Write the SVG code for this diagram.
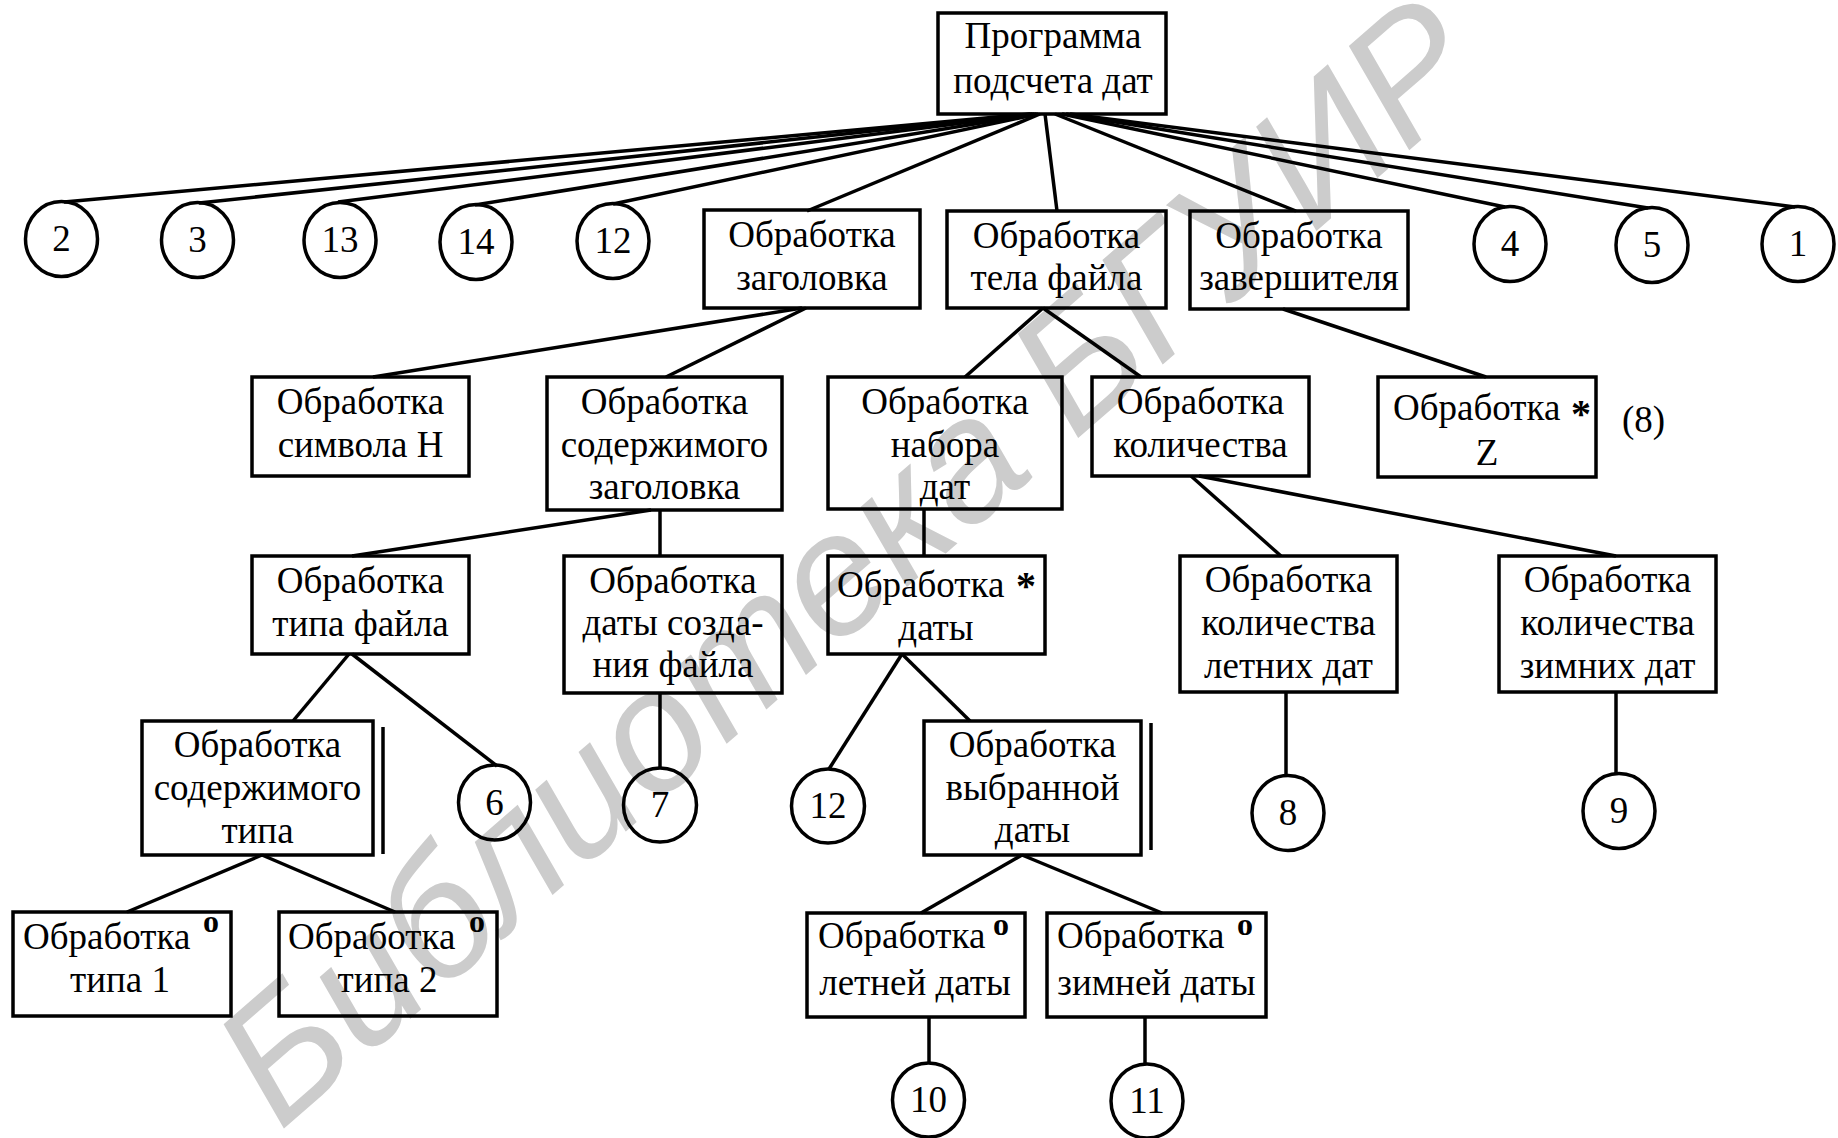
<svg xmlns="http://www.w3.org/2000/svg" width="1838" height="1138" viewBox="0 0 1838 1138">
<style>
.box{fill:none;stroke:#000;stroke-width:3.5}
.circ{fill:none;stroke:#000;stroke-width:3.5}
.edges path{stroke:#000;stroke-width:3.5;fill:none}
.t{font-family:"Liberation Serif","Times New Roman",serif;font-size:37px;fill:#000;text-anchor:middle}
.ts{font-family:"Liberation Serif","Times New Roman",serif;font-size:37px;fill:#000;text-anchor:start}
.mark{font-family:"Liberation Serif","Times New Roman",serif;font-size:40px;font-weight:bold;fill:#000}
.sup{font-family:"Liberation Serif","Times New Roman",serif;font-size:32px;font-weight:bold;fill:#000}
.wm{font-family:"Liberation Sans",Arial,sans-serif;font-size:172px;font-style:italic;fill:#cccccc}
</style>
<rect width="1838" height="1138" fill="#fff"/>
<text class="wm" transform="translate(280,1132) rotate(-41)">Библиотека БГУИР</text>

<g id="connectors" class="edges">
<path d="M1030,114 L64,202"/>
<path d="M1032,114 L199,203"/>
<path d="M1034,114 L338,202"/>
<path d="M1036,114 L475,205"/>
<path d="M1038,114 L613,204"/>
<path d="M1040,114 L807,211"/>
<path d="M1045,114 L1057,211"/>
<path d="M1055,114 L1296,211"/>
<path d="M1062,114 L1505,207"/>
<path d="M1066,114 L1648,208"/>
<path d="M1070,114 L1795,207"/>
<path d="M802,308 L373,377"/>
<path d="M806,308 L666,377"/>
<path d="M1043,308 L965,377"/>
<path d="M1043,308 L1141,377"/>
<path d="M1283,309 L1486,377"/>
<path d="M651,510 L352,556"/>
<path d="M660,510 L660,556"/>
<path d="M924,509 L924,556"/>
<path d="M1191,476 L1281,556"/>
<path d="M1199,476 L1616,556"/>
<path d="M349,654 L293,721"/>
<path d="M352,654 L497,766"/>
<path d="M660,692 L660,768"/>
<path d="M902,654 L829,769"/>
<path d="M902,654 L970,721"/>
<path d="M1286,692 L1286,776"/>
<path d="M1616,692 L1616,774"/>
<path d="M262,855 L127,912"/>
<path d="M262,855 L395,912"/>
<path d="M1022,855 L921,913"/>
<path d="M1022,855 L1162,913"/>
<path d="M929,1017 L929,1063"/>
<path d="M1145,1017 L1145,1064"/>
</g>

<g id="root"><rect class="box" x="938" y="13" width="228" height="101"/>
<text class="t"><tspan x="1053" y="48">Программа</tspan><tspan x="1053" y="93">подсчета дат</tspan></text></g>

<g id="c2"><ellipse class="circ" cx="61.5" cy="239" rx="36" ry="37.5"/><text class="t" x="61.5" y="251">2</text></g>
<g id="c3"><ellipse class="circ" cx="197.5" cy="240" rx="36" ry="37.5"/><text class="t" x="197.5" y="252">3</text></g>
<g id="c13"><ellipse class="circ" cx="340" cy="240" rx="36" ry="37.5"/><text class="t" x="340" y="252">13</text></g>
<g id="c14"><ellipse class="circ" cx="476" cy="242" rx="36" ry="37.5"/><text class="t" x="476" y="254">14</text></g>
<g id="c12a"><ellipse class="circ" cx="613" cy="241" rx="36" ry="37.5"/><text class="t" x="613" y="253">12</text></g>
<g id="c4"><ellipse class="circ" cx="1510" cy="244" rx="36" ry="37.5"/><text class="t" x="1510" y="256">4</text></g>
<g id="c5"><ellipse class="circ" cx="1652" cy="245" rx="36" ry="37.5"/><text class="t" x="1652" y="257">5</text></g>
<g id="c1"><ellipse class="circ" cx="1798" cy="244" rx="36" ry="37.5"/><text class="t" x="1798" y="256">1</text></g>

<g id="n-header"><rect class="box" x="704" y="210" width="216" height="98"/>
<text class="t"><tspan x="812" y="247">Обработка</tspan><tspan x="812" y="290">заголовка</tspan></text></g>
<g id="n-body"><rect class="box" x="947" y="211" width="219" height="97"/>
<text class="t"><tspan x="1056.5" y="248">Обработка</tspan><tspan x="1056.5" y="290">тела файла</tspan></text></g>
<g id="n-term"><rect class="box" x="1190" y="211" width="218" height="98"/>
<text class="t"><tspan x="1299" y="248">Обработка</tspan><tspan x="1299" y="290">завершителя</tspan></text></g>

<g id="n-symH"><rect class="box" x="252" y="377" width="217" height="99"/>
<text class="t"><tspan x="360.5" y="414">Обработка</tspan><tspan x="360.5" y="457">символа Н</tspan></text></g>
<g id="n-hcont"><rect class="box" x="547" y="377" width="235" height="133"/>
<text class="t"><tspan x="664.5" y="414">Обработка</tspan><tspan x="664.5" y="457">содержимого</tspan><tspan x="664.5" y="499">заголовка</tspan></text></g>
<g id="n-set"><rect class="box" x="828" y="377" width="234" height="132"/>
<text class="t"><tspan x="945" y="414">Обработка</tspan><tspan x="945" y="457">набора</tspan><tspan x="945" y="499">дат</tspan></text></g>
<g id="n-count"><rect class="box" x="1092" y="377" width="217" height="99"/>
<text class="t"><tspan x="1200.5" y="414">Обработка</tspan><tspan x="1200.5" y="457">количества</tspan></text></g>
<g id="n-z"><rect class="box" x="1378" y="377" width="218" height="100"/>
<text class="ts" x="1393" y="420">Обработка</text><text class="mark" x="1571" y="427">*</text>
<text class="t" x="1487" y="465">Z</text></g>
<text id="lbl8" class="ts" x="1622" y="432">(8)</text>

<g id="n-ftype"><rect class="box" x="252" y="556" width="217" height="98"/>
<text class="t"><tspan x="360.5" y="593">Обработка</tspan><tspan x="360.5" y="636">типа файла</tspan></text></g>
<g id="n-cdate"><rect class="box" x="564" y="556" width="218" height="137"/>
<text class="t"><tspan x="673" y="593">Обработка</tspan><tspan x="673" y="635">даты созда-</tspan><tspan x="673" y="677">ния файла</tspan></text></g>
<g id="n-date"><rect class="box" x="828" y="556" width="217" height="98"/>
<text class="ts" x="837" y="597">Обработка</text><text class="mark" x="1016" y="599">*</text>
<text class="t" x="936" y="640">даты</text></g>
<g id="n-summer"><rect class="box" x="1180" y="556" width="217" height="136"/>
<text class="t"><tspan x="1288.5" y="592">Обработка</tspan><tspan x="1288.5" y="635">количества</tspan><tspan x="1288.5" y="678">летних дат</tspan></text></g>
<g id="n-winter"><rect class="box" x="1499" y="556" width="217" height="136"/>
<text class="t"><tspan x="1607.5" y="592">Обработка</tspan><tspan x="1607.5" y="635">количества</tspan><tspan x="1607.5" y="678">зимних дат</tspan></text></g>

<g id="n-tcont"><rect class="box" x="142" y="721" width="231" height="134"/>
<path d="M383,727 V854" stroke="#000" stroke-width="3.5"/>
<text class="t"><tspan x="257.5" y="757">Обработка</tspan><tspan x="257.5" y="800">содержимого</tspan><tspan x="257.5" y="843">типа</tspan></text></g>
<g id="c6"><ellipse class="circ" cx="494.5" cy="802.5" rx="36" ry="37.5"/><text class="t" x="494.5" y="815">6</text></g>
<g id="c7"><ellipse class="circ" cx="660" cy="805" rx="36.5" ry="37"/><text class="t" x="660" y="817">7</text></g>
<g id="c12b"><ellipse class="circ" cx="828" cy="806" rx="36.5" ry="37"/><text class="t" x="828" y="818">12</text></g>
<g id="n-sel"><rect class="box" x="924" y="721" width="217" height="134"/>
<path d="M1151,723 V850" stroke="#000" stroke-width="3.5"/>
<text class="t"><tspan x="1032.5" y="757">Обработка</tspan><tspan x="1032.5" y="800">выбранной</tspan><tspan x="1032.5" y="842">даты</tspan></text></g>
<g id="c8"><ellipse class="circ" cx="1288" cy="813" rx="36" ry="37.5"/><text class="t" x="1288" y="825">8</text></g>
<g id="c9"><ellipse class="circ" cx="1619" cy="811" rx="36" ry="37.5"/><text class="t" x="1619" y="823">9</text></g>

<g id="n-t1"><rect class="box" x="13" y="912" width="218" height="104"/>
<text class="ts" x="23" y="949">Обработка</text><text class="sup" x="203" y="932">o</text>
<text class="t" x="120" y="992">типа 1</text></g>
<g id="n-t2"><rect class="box" x="279" y="912" width="218" height="104"/>
<text class="ts" x="288" y="949">Обработка</text><text class="sup" x="469" y="932">o</text>
<text class="t" x="387.5" y="992">типа 2</text></g>
<g id="n-sum"><rect class="box" x="807" y="913" width="218" height="104"/>
<text class="ts" x="818" y="948">Обработка</text><text class="sup" x="993" y="935">o</text>
<text class="t" x="915" y="995">летней даты</text></g>
<g id="n-win"><rect class="box" x="1047" y="913" width="219" height="104"/>
<text class="ts" x="1057" y="948">Обработка</text><text class="sup" x="1237" y="935">o</text>
<text class="t" x="1156.5" y="995">зимней даты</text></g>
<g id="c10"><ellipse class="circ" cx="928.5" cy="1100" rx="36" ry="37"/><text class="t" x="928.5" y="1112">10</text></g>
<g id="c11"><ellipse class="circ" cx="1147" cy="1101" rx="36" ry="37"/><text class="t" x="1147" y="1113">11</text></g>
</svg>
